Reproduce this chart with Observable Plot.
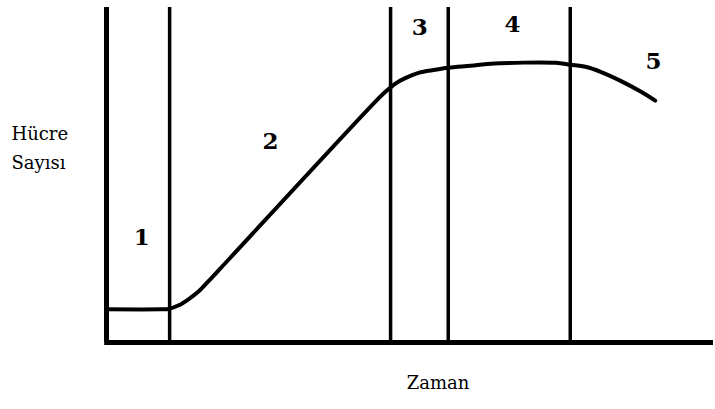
<!DOCTYPE html>
<html>
<head>
<meta charset="utf-8">
<script src="https://cdn.jsdelivr.net/npm/d3@7"></script>
<script src="https://cdn.jsdelivr.net/npm/@observablehq/plot@0.6"></script>
<style>
  html, body { margin: 0; padding: 0; background: #fff; }
  #chart svg { display: block; }
</style>
</head>
<body>
<div id="chart"></div>
<script>
// Time (arbitrary units, 0-100) and cell count (arbitrary units, 0-100)
const curveTime  = [0, 8.9, 10.2, 11.9, 13.5, 15.2, 16.8, 18.5, 20.4, 44.3, 46.0, 47.6, 49.3, 51.4, 54.2, 56.3, 60.0, 63.3, 74.0, 76.4, 78.9, 81.4, 84.7, 88.0, 90.4];
const curveCount = [9.9, 9.9, 10.0, 11.1, 12.9, 15.3, 18.3, 21.6, 25.3, 71.9, 74.9, 77.3, 79.0, 80.5, 81.4, 82.0, 82.6, 83.2, 83.5, 82.9, 82.3, 80.8, 78.1, 74.9, 72.2];

// Phase boundaries on the time axis
const phaseBounds = [10.4, 46.8, 56.3, 76.4];

// Phase labels and their positions
const phaseLabels = ["1", "2", "3", "4", "5"];
const phaseLabelTime  = [5.8, 27.0, 51.6, 66.9, 90.1];
const phaseLabelCount = [31.4, 59.9, 94.0, 94.9, 83.8];

const yLabel = "Hücre\nSayısı";
const xLabel = "Zaman";

const serif = "DejaVu Serif";
const curve = curveTime.map((t, i) => ({t, n: curveCount[i]}));
const labels = phaseLabels.map((s, i) => ({s, t: phaseLabelTime[i], n: phaseLabelCount[i]}));

const chart = Plot.plot({
  width: 715,
  height: 409,
  marginLeft: 106,
  marginRight: 2,
  marginTop: 7,
  marginBottom: 67,
  style: {background: "#fff"},
  x: {domain: [0, 100], axis: null},
  y: {domain: [0, 100], axis: null},
  marks: [
    Plot.ruleX(phaseBounds, {y1: 0, y2: 100, stroke: "#000", strokeWidth: 3.5}),
    Plot.ruleX([0], {y1: 0, y2: 100, stroke: "#000", strokeWidth: 5}),
    Plot.ruleY([0], {stroke: "#000", strokeWidth: 5, x1: -0.3, x2: 100}),
    Plot.line(curve, {x: "t", y: "n", stroke: "#000", strokeWidth: 4, curve: "catmull-rom"}),
    Plot.text(labels, {x: "t", y: "n", text: "s", fontSize: 23, fontWeight: "bold", fontFamily: serif, fill: "#000"}),
    Plot.text([yLabel], {frameAnchor: "left", textAnchor: "start", dx: -95, dy: -30, fontSize: 18, fontFamily: serif, lineHeight: 1.65, fill: "#000"}),
    Plot.text([xLabel], {frameAnchor: "bottom", dx: 28, dy: 46, fontSize: 18, fontFamily: serif, fill: "#000"})
  ]
});
document.getElementById("chart").appendChild(chart);
</script>
</body>
</html>
